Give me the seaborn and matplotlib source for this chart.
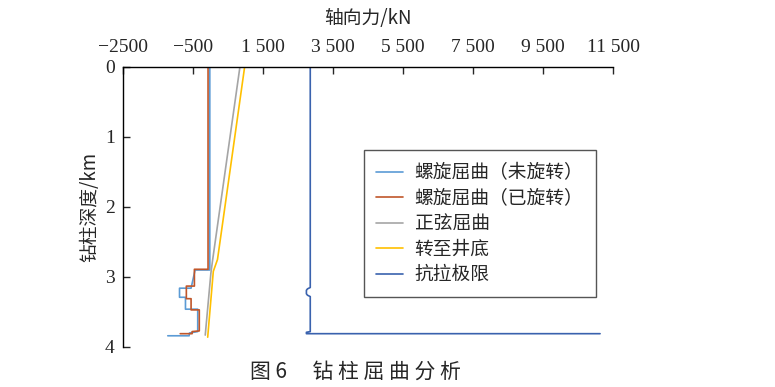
# 钻柱屈曲分析 - 轴向力随深度变化
import matplotlib.pyplot as plt
import seaborn as sns

sns.set_style("white")
plt.rcParams['font.family'] = ['Noto Sans CJK SC', 'DejaVu Sans']

# 数据 (轴向力 kN, 深度 km)
nomes = ["螺旋屈曲（未旋转）", "螺旋屈曲（已旋转）", "正弦屈曲", "转至井底", "抗拉极限"]
cores = ["#5B9BD5", "#C0562A", "#A5A5A5", "#FFC000", "#3A62AE"]

helix_free_x = [-20, -20, -440, -555, -885, -885, -715, -715, -365, -365, -600, -610, -1220]
helix_free_y = [0, 2.90, 2.90, 3.16, 3.16, 3.29, 3.29, 3.46, 3.46, 3.78, 3.80, 3.84, 3.84]

helix_rot_x = [-70, -70, -460, -460, -690, -690, -555, -555, -320, -320, -525, -525, -865]
helix_rot_y = [0, 2.89, 2.89, 3.13, 3.13, 3.31, 3.31, 3.47, 3.47, 3.77, 3.78, 3.81, 3.81]

sine_x = [840, 60, 10, -150]
sine_y = [0, 2.76, 2.95, 3.83]

bottom_x = [975, 200, 80, -80]
bottom_y = [0, 2.75, 2.92, 3.86]

tension_x = [2850, 2850, 2770, 2740, 2740, 2770, 2850, 2850, 2740, 2740, 11130]
tension_y = [0, 3.15, 3.17, 3.19, 3.24, 3.26, 3.28, 3.78, 3.79, 3.81, 3.81]

series_x = [helix_free_x, helix_rot_x, sine_x, bottom_x, tension_x]
series_y = [helix_free_y, helix_rot_y, sine_y, bottom_y, tension_y]

xticks = [-2500, -500, 1500, 3500, 5500, 7500, 9500, 11500]
xlabels = ["\u22122500", "\u2212500", "1 500", "3 500", "5 500", "7 500", "9 500", "11 500"]
yticks = [0, 1, 2, 3, 4]

fig = plt.figure(figsize=(7.75, 3.87), dpi=100)
ax = fig.add_axes([0.1587, 0.1034, 0.6323, 0.7235])

for nome, xs, ys, c in zip(nomes, series_x, series_y, cores):
    sns.lineplot(x=xs, y=ys, sort=False, estimator=None, color=c,
                 lw=1.2, label=nome, ax=ax)

ax.set_xlim(-2500, 11500)
ax.set_ylim(4, 0)
ax.xaxis.tick_top()
ax.xaxis.set_label_position('top')
ax.set_xticks(xticks)
ax.set_xticklabels(xlabels, family='Liberation Serif', fontsize=14)
ax.set_yticks(yticks)
ax.set_yticklabels([str(v) for v in yticks], family='Liberation Serif', fontsize=14)
ax.tick_params(axis='x', direction='in', length=5, width=1, pad=8, top=True, bottom=False)
ax.tick_params(axis='y', direction='in', length=5, width=1, pad=6, left=True)

for s in ['right', 'bottom']:
    ax.spines[s].set_visible(False)
for s in ['left', 'top']:
    ax.spines[s].set_color('black')
    ax.spines[s].set_linewidth(1.0)

ax.set_xlabel("轴向力/kN", fontsize=13.5)
ax.xaxis.set_label_coords(0.5, 1.155)
ax.set_ylabel("钻柱深度/km", fontsize=13.5)
ax.yaxis.set_label_coords(-0.047, 0.5)

leg = ax.legend(loc='upper left', bbox_to_anchor=(0.4697, 0.6124),
                bbox_transform=fig.transFigure, borderaxespad=0, fontsize=13.5,
                frameon=True, fancybox=False, edgecolor='#555555', framealpha=1,
                handlelength=1.45, handletextpad=0.6, labelspacing=0.24,
                borderpad=0.65)
leg.get_frame().set_linewidth(1.0)

fig.text(355 / 775, 1 - 372 / 387, "图 6　 钻 柱 屈 曲 分 析", ha='center', va='center',
         fontsize=15, fontweight='medium')

fig.savefig("out.png", dpi=100)
